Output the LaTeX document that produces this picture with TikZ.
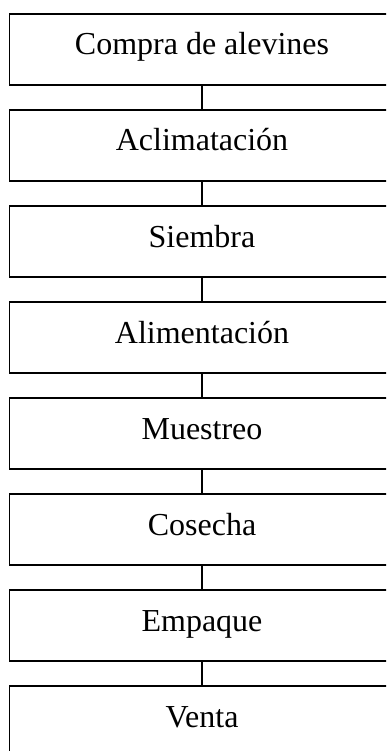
\documentclass[tikz,border=0pt]{standalone}
\usepackage{fontspec}
\setmainfont{Liberation Serif}
\begin{document}
\begin{tikzpicture}[x=1pt,y=-1pt,
  stepbox/.style={draw=black,line width=1.1pt,rectangle,minimum width=385pt,minimum height=71pt,
    inner sep=0pt,text height=20pt,text depth=9pt,font=\fontsize{32}{38}\selectfont},
  link/.style={draw=black,line width=1.1pt}]
\useasboundingbox (0,0) rectangle (386,751);
\clip (0,0) rectangle (386,751);
\node[stepbox] (b1) at (202,49.5) {Compra de alevines};
\node[stepbox] (b2) at (202,145.5) {Aclimatación};
\node[stepbox] (b3) at (202,241.5) {Siembra};
\node[stepbox] (b4) at (202,337.5) {Alimentación};
\node[stepbox] (b5) at (202,433.5) {Muestreo};
\node[stepbox] (b6) at (202,529.5) {Cosecha};
\node[stepbox] (b7) at (202,625.5) {Empaque};
\node[stepbox] (b8) at (202,721.5) {Venta};
\draw[link] (b1.south) -- (b2.north);
\draw[link] (b2.south) -- (b3.north);
\draw[link] (b3.south) -- (b4.north);
\draw[link] (b4.south) -- (b5.north);
\draw[link] (b5.south) -- (b6.north);
\draw[link] (b6.south) -- (b7.north);
\draw[link] (b7.south) -- (b8.north);
\end{tikzpicture}
\end{document}
